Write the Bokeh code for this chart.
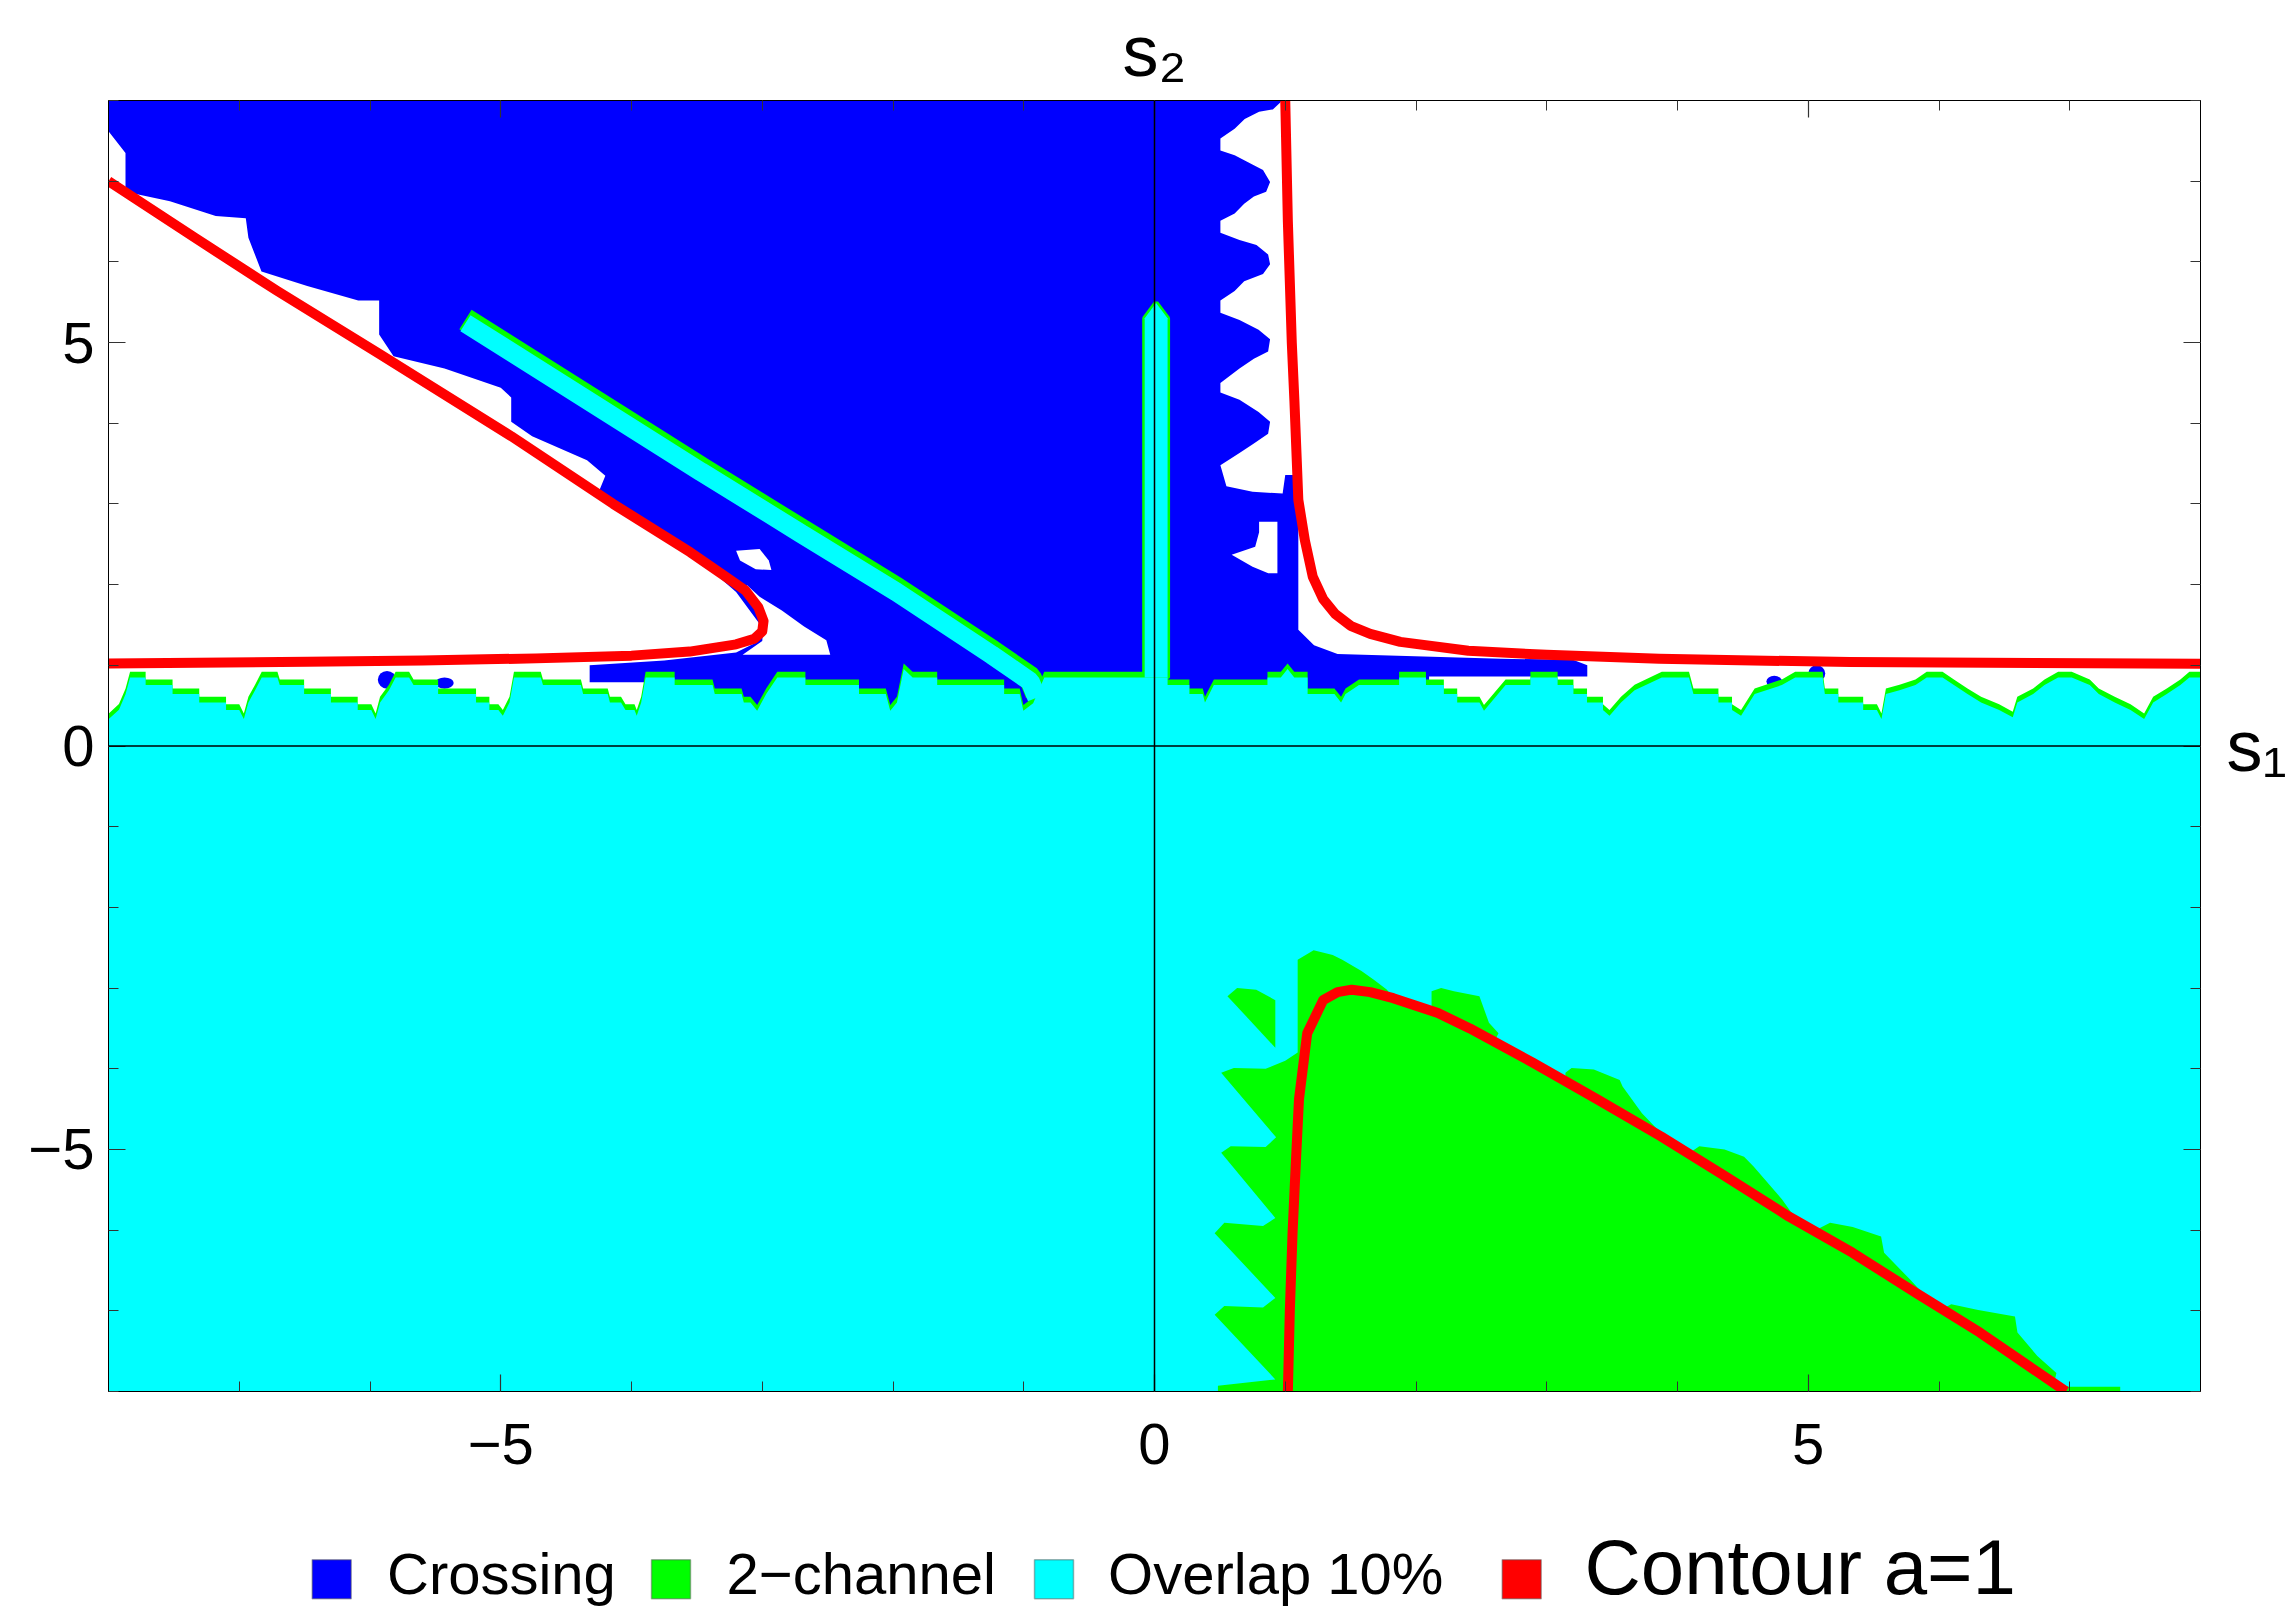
from bokeh.plotting import figure
from bokeh.models import Range1d, FixedTicker, LinearAxis, Span
from bokeh.layouts import column
from bokeh.embed import file_html
from bokeh.resources import INLINE
from bokeh.core.properties import value

# ---------------------------------------------------------------- data
S1_RANGE = (-8, 8)
S2_RANGE = (-8, 8)
MAJOR_TICKS = [-5, 0, 5]
MINOR_TICKS = list(range(-8, 9))
TICK_LABELS = {-5: "\u22125", 0: "0", 5: "5"}
S1_NAME = "s\u2081"
S2_NAME = "s\u2082"

LEGEND_LABELS = ["Crossing", "2\u2212channel", "Overlap 10%", "Contour a=1"]

# contour a = 1, three branches (s1, s2)
CONTOUR_UL = [(-8.0, 7.0), (-7.34, 6.30), (-6.71, 5.64), (-5.93, 4.86), (-4.92, 3.84),
              (-4.14, 3.0), (-3.55, 2.40), (-3.30, 2.12), (-3.13, 1.93), (-3.03, 1.72),
              (-2.99, 1.55), (-3.0, 1.42), (-3.06, 1.33), (-3.2, 1.26), (-3.555, 1.17),
              (-4.0, 1.12), (-4.73, 1.086), (-5.6, 1.06), (-6.48, 1.044), (-8.0, 1.024)]
CONTOUR_UR = [(1.00, 8.0), (1.02, 6.5), (1.05, 5.0), (1.07, 4.28), (1.10, 3.05), (1.15, 2.55),
              (1.21, 2.10), (1.29, 1.82), (1.38, 1.64), (1.50, 1.49), (1.65, 1.39), (1.88, 1.29),
              (2.40, 1.18), (3.0, 1.13), (3.86, 1.08), (5.32, 1.04), (8.0, 1.02)]
CONTOUR_LR = [(1.02, -8.0), (1.035, -7.0), (1.056, -6.03), (1.08, -5.2), (1.105, -4.38),
              (1.168, -3.56), (1.29, -3.15), (1.40, -3.05), (1.509, -3.02), (1.65, -3.05),
              (1.826, -3.125), (2.168, -3.31), (2.412, -3.50), (2.90, -3.93), (3.387, -4.38),
              (3.875, -4.84), (4.362, -5.33), (4.85, -5.83), (5.338, -6.28), (5.825, -6.78),
              (6.313, -7.27), (6.971, -8.0)]

# upper boundary of the "Overlap 10%" region (lower half plane)
OVERLAP_EDGE = [
    (-8.00, 0.40), (-7.92, 0.52), (-7.87, 0.71), (-7.835, 0.92), (-7.716, 0.92), (-7.716, 0.825),
    (-7.51, 0.825), (-7.51, 0.713), (-7.306, 0.713), (-7.306, 0.61), (-7.101, 0.61), (-7.101, 0.516),
    (-7.00, 0.516), (-6.965, 0.404),
    (-6.93, 0.61), (-6.879, 0.76), (-6.828, 0.92), (-6.708, 0.92), (-6.69, 0.825), (-6.504, 0.825),
    (-6.504, 0.713), (-6.299, 0.713), (-6.299, 0.61), (-6.094, 0.61), (-6.094, 0.516), (-5.99, 0.516),
    (-5.957, 0.404),
    (-5.923, 0.61), (-5.855, 0.76), (-5.804, 0.92), (-5.701, 0.92), (-5.667, 0.825), (-5.479, 0.825),
    (-5.479, 0.713), (-5.189, 0.713), (-5.189, 0.61), (-5.087, 0.61), (-5.087, 0.516), (-5.018, 0.516),
    (-4.984, 0.446),
    (-4.933, 0.61), (-4.899, 0.92), (-4.694, 0.92), (-4.677, 0.825), (-4.387, 0.825), (-4.37, 0.713),
    (-4.182, 0.713), (-4.165, 0.61), (-4.08, 0.61), (-4.046, 0.516), (-3.977, 0.516), (-3.96, 0.446),
    (-3.926, 0.61), (-3.892, 0.92), (-3.67, 0.92), (-3.67, 0.825), (-3.38, 0.825), (-3.363, 0.713),
    (-3.158, 0.713), (-3.141, 0.61), (-3.09, 0.61), (-3.039, 0.507),
    (-2.97, 0.713), (-2.885, 0.92), (-2.67, 0.92), (-2.67, 0.825), (-2.26, 0.825), (-2.26, 0.713),
    (-2.055, 0.713), (-2.021, 0.507),
    (-1.97, 0.61), (-1.918, 1.024), (-1.85, 0.92), (-1.662, 0.92), (-1.662, 0.825), (-1.150, 0.825),
    (-1.150, 0.713), (-1.031, 0.713), (-1.003, 0.507),
    (-0.928, 0.60), (-0.843, 0.92), (-0.075, 0.92), (0.10, 0.92), (0.10, 0.825), (0.267, 0.825),
    (0.267, 0.713), (0.369, 0.713), (0.386, 0.61),
    (0.454, 0.825), (0.864, 0.825), (0.864, 0.92), (0.966, 0.92), (1.018, 1.024), (1.069, 0.92),
    (1.171, 0.92), (1.171, 0.713), (1.376, 0.713), (1.427, 0.61),
    (1.461, 0.713), (1.564, 0.825), (1.871, 0.825), (1.871, 0.92), (2.076, 0.92), (2.076, 0.825),
    (2.213, 0.825), (2.213, 0.713), (2.315, 0.713), (2.315, 0.61), (2.486, 0.61), (2.52, 0.507),
    (2.685, 0.825), (2.875, 0.825), (2.875, 0.92), (3.083, 0.92), (3.083, 0.825), (3.204, 0.825),
    (3.204, 0.713), (3.308, 0.713), (3.308, 0.61), (3.43, 0.61), (3.43, 0.516), (3.48, 0.446),
    (3.568, 0.61), (3.672, 0.76), (3.88, 0.92), (4.088, 0.92), (4.122, 0.713), (4.313, 0.713),
    (4.313, 0.61), (4.417, 0.61), (4.417, 0.516), (4.486, 0.446),
    (4.59, 0.713), (4.798, 0.825), (4.90, 0.92), (5.11, 0.92), (5.127, 0.713), (5.23, 0.713),
    (5.23, 0.61), (5.42, 0.61), (5.42, 0.516), (5.525, 0.516), (5.56, 0.404),
    (5.594, 0.713), (5.698, 0.76), (5.82, 0.825), (5.906, 0.92), (6.027, 0.92), (6.114, 0.825),
    (6.218, 0.713), (6.322, 0.61), (6.46, 0.516), (6.564, 0.425),
    (6.599, 0.61), (6.72, 0.713), (6.807, 0.825), (6.911, 0.92), (7.015, 0.92), (7.153, 0.825),
    (7.222, 0.713), (7.344, 0.61), (7.465, 0.516), (7.569, 0.404),
    (7.638, 0.61), (7.742, 0.713), (7.846, 0.825), (7.915, 0.92), (8.0, 0.92),
]

# thin "Overlap 10%" bands inside the crossing region
OVERLAP_DIAGONAL = [(-5.27, 5.24), (-3.47, 3.40), (-2.70, 2.63), (-1.975, 1.91),
                    (-1.245, 1.13), (-0.95, 0.80), (-0.90, 0.60)]
OVERLAP_VERTICAL = [(-0.075, 0.85), (-0.075, 5.30), (0.012, 5.49), (0.10, 5.30), (0.10, 0.85)]

# "Crossing" region outline
CROSSING = [
    (-8.0, 8.0), (0.978, 8.0), (0.905, 7.89), (0.80, 7.86), (0.69, 7.77), (0.613, 7.65),
    (0.504, 7.53), (0.504, 7.38), (0.613, 7.32), (0.723, 7.23), (0.83, 7.14), (0.884, 6.99),
    (0.854, 6.87), (0.76, 6.81), (0.686, 6.72), (0.613, 6.60), (0.504, 6.51), (0.504, 6.36),
    (0.65, 6.27), (0.78, 6.21), (0.869, 6.09), (0.884, 5.97), (0.83, 5.85), (0.686, 5.76),
    (0.613, 5.64), (0.504, 5.52), (0.504, 5.37), (0.65, 5.28), (0.796, 5.16), (0.884, 5.04),
    (0.869, 4.89), (0.76, 4.80), (0.65, 4.68), (0.504, 4.50), (0.504, 4.38), (0.65, 4.29),
    (0.796, 4.14), (0.884, 4.02), (0.869, 3.87), (0.76, 3.75), (0.65, 3.63), (0.504, 3.48),
    (0.55, 3.22), (0.75, 3.15), (0.98, 3.13), (1.0, 3.36), (1.10, 3.36), (1.10, 1.44),
    (1.22, 1.25), (1.40, 1.14), (2.65, 1.08), (3.20, 1.07), (3.31, 1.0), (3.31, 0.86), (2.10, 0.86),
    (2.10, 0.40), (-3.90, 0.40), (-3.90, 0.79), (-4.32, 0.79), (-4.32, 1.0), (-3.75, 1.06),
    (-3.20, 1.16), (-3.05, 1.28), (-2.99, 1.40), (-3.01, 1.49), (-3.20, 1.91), (-3.55, 2.40),
    (-4.14, 3.00), (-4.25, 3.15), (-4.20, 3.35), (-4.34, 3.54), (-4.76, 3.84), (-4.92, 4.02),
    (-4.92, 4.32), (-5.00, 4.44), (-5.43, 4.68), (-5.82, 4.83), (-5.93, 5.10), (-5.93, 5.52),
    (-6.09, 5.52), (-6.48, 5.70), (-6.83, 5.88), (-6.93, 6.30), (-6.95, 6.54), (-7.18, 6.57),
    (-7.53, 6.75), (-7.87, 6.87), (-7.87, 7.35), (-8.0, 7.62),
]
# gaps inside the crossing region
CROSSING_GAPS = [
    [(-3.12, 2.0), (-3.02, 1.85), (-2.85, 1.68), (-2.68, 1.48), (-2.51, 1.31), (-2.48, 1.13),
     (-3.15, 1.13), (-3.0, 1.3), (-2.99, 1.5)],
    [(-3.20, 2.42), (-3.02, 2.44), (-2.95, 2.3), (-2.93, 2.18), (-3.05, 2.19), (-3.17, 2.3)],
    [(0.80, 2.78), (0.94, 2.78), (0.94, 2.14), (0.87, 2.14), (0.75, 2.22), (0.59, 2.37),
     (0.77, 2.47), (0.80, 2.65)],
]
# isolated crossing specks just above the overlap boundary
SPECK_X = [-5.87, -5.43, 4.74, 5.065]
SPECK_Y = [0.82, 0.78, 0.80, 0.90]
SPECK_W = [0.14, 0.14, 0.12, 0.13]
SPECK_H = [0.22, 0.14, 0.14, 0.20]

# "2-channel" region, lower right
TWO_CHANNEL = [
    (0.485, -8.0), (0.485, -7.93), (0.924, -7.85), (0.46, -7.05), (0.534, -6.94), (0.83, -6.96),
    (0.924, -6.84), (0.46, -6.04), (0.534, -5.91), (0.83, -5.95), (0.924, -5.85), (0.51, -5.04),
    (0.583, -4.96), (0.85, -4.97), (0.93, -4.85), (0.51, -4.05), (0.607, -3.99), (0.85, -4.0),
    (1.0, -3.9), (1.095, -3.8), (1.095, -2.65), (1.217, -2.53), (1.363, -2.59), (1.436, -2.65),
    (1.583, -2.79), (1.68, -2.90), (1.778, -3.02), (1.826, -3.125), (2.119, -3.28), (2.119, -3.04),
    (2.192, -3.0), (2.29, -3.04), (2.485, -3.10), (2.558, -3.43), (2.631, -3.56), (2.60, -3.66),
    (2.90, -3.93), (3.143, -4.15), (3.143, -4.05), (3.19, -3.99), (3.36, -4.01), (3.558, -4.14),
    (3.58, -4.22), (3.728, -4.55), (3.875, -4.80), (4.094, -5.06), (4.094, -5.04), (4.167, -4.96),
    (4.36, -5.0), (4.509, -5.09), (4.582, -5.21), (4.8, -5.62), (4.875, -5.79), (4.85, -5.83),
    (5.07, -6.03), (5.07, -5.99), (5.167, -5.91), (5.34, -5.96), (5.557, -6.08), (5.58, -6.28),
    (5.777, -6.61), (5.874, -6.78), (5.825, -6.78), (6.02, -6.98), (6.094, -6.92), (6.3, -6.99),
    (6.581, -7.07), (6.6, -7.27), (6.752, -7.56), (6.898, -7.77), (6.88, -7.90), (6.995, -7.94),
    (7.386, -7.94), (7.386, -8.0),
]
TWO_CHANNEL_PIECE = [(0.558, -3.10), (0.632, -3.0), (0.778, -3.02), (0.924, -3.15), (0.924, -3.74)]

# ---------------------------------------------------------------- styling
BLUE, GREEN, CYAN, RED = "#0000FF", "#00FF00", "#00FFFF", "#FF0000"
FONT = "Liberation Sans"
FRINGE = 0.07  # depth of the green rim along the overlap boundary
PAD_L, PAD_R = 108, 95


def xs(pts):
    return [q[0] for q in pts]


def ys(pts, dy=0.0):
    return [q[1] + dy for q in pts]


p = figure(width=2295, height=1500,
           x_range=Range1d(*S1_RANGE), y_range=Range1d(*S2_RANGE),
           output_backend="svg", toolbar_location=None,
           min_border_left=PAD_L, min_border_right=PAD_R, min_border_top=100, min_border_bottom=109,
           background_fill_color="white", border_fill_color="white")
p.grid.visible = False
p.outline_line_color = "black"
p.outline_line_width = 1


def style_axis(ax, with_labels):
    ax.ticker = FixedTicker(ticks=MAJOR_TICKS, minor_ticks=MINOR_TICKS)
    ax.major_tick_in = 17
    ax.major_tick_out = 0
    ax.minor_tick_in = 10
    ax.minor_tick_out = 0
    ax.axis_line_color = "black"
    ax.axis_line_width = 1
    ax.major_tick_line_color = "#333333"
    ax.minor_tick_line_color = "#333333"
    ax.major_tick_line_width = 1.2
    ax.minor_tick_line_width = 1
    if with_labels:
        ax.major_label_overrides = TICK_LABELS
        ax.major_label_text_font = FONT
        ax.major_label_text_font_size = "58px"
        ax.major_label_text_color = "black"
    else:
        ax.major_label_text_font_size = "0px"
        ax.major_label_text_alpha = 0
        ax.major_label_standoff = 0


style_axis(p.xaxis[0], True)
style_axis(p.yaxis[0], True)
p.xaxis[0].major_label_standoff = 32
p.yaxis[0].major_label_standoff = 14

# frame sides: axis names sit at the end of each coordinate axis
top_axis = LinearAxis(axis_label=S2_NAME)
right_axis = LinearAxis(axis_label=S1_NAME)
style_axis(top_axis, False)
style_axis(right_axis, False)
for ax in (top_axis, right_axis):
    ax.axis_label_text_font = FONT
    ax.axis_label_text_font_size = "72px"
    ax.axis_label_text_font_style = "normal"
    ax.axis_label_text_color = "black"
top_axis.axis_label_standoff = 10
right_axis.axis_label_orientation = "horizontal"
right_axis.axis_label_standoff = 26
p.add_layout(top_axis, "above")
p.add_layout(right_axis, "right")

# crossing region and its gaps
p.patch(xs(CROSSING), ys(CROSSING), fill_color=BLUE, line_color=None)
for gap in CROSSING_GAPS:
    p.patch(xs(gap), ys(gap), fill_color="white", line_color=None)
p.ellipse(x=SPECK_X, y=SPECK_Y, width=SPECK_W, height=SPECK_H, fill_color=BLUE, line_color=None)

# overlap region with its green rim
base_x = xs(OVERLAP_EDGE) + [S1_RANGE[1], S1_RANGE[0]]
p.patch(base_x, ys(OVERLAP_EDGE) + [S2_RANGE[0], S2_RANGE[0]], fill_color=GREEN, line_color=None)
p.line(xs(OVERLAP_DIAGONAL), ys(OVERLAP_DIAGONAL, 0.045), line_color=GREEN, line_width=23)
p.patch(xs(OVERLAP_VERTICAL), ys(OVERLAP_VERTICAL), fill_color=CYAN, line_color=GREEN, line_width=5)
p.patch(base_x, ys(OVERLAP_EDGE, -FRINGE) + [S2_RANGE[0], S2_RANGE[0]], fill_color=CYAN, line_color=None)
p.line(xs(OVERLAP_DIAGONAL), ys(OVERLAP_DIAGONAL), line_color=CYAN, line_width=19)
p.patch(xs(OVERLAP_VERTICAL), ys(OVERLAP_VERTICAL), fill_color=CYAN, line_color=None)

# 2-channel region
p.patch(xs(TWO_CHANNEL), ys(TWO_CHANNEL), fill_color=GREEN, line_color=None)
p.patch(xs(TWO_CHANNEL_PIECE), ys(TWO_CHANNEL_PIECE), fill_color=GREEN, line_color=None)

# contour a = 1
for branch in (CONTOUR_UL, CONTOUR_UR, CONTOUR_LR):
    p.line(xs(branch), ys(branch), line_color=RED, line_width=10, line_join="round")

# coordinate axes through the origin
p.add_layout(Span(location=0, dimension="width", line_color="black", line_width=1.5))
p.add_layout(Span(location=0, dimension="height", line_color="black", line_width=1.5))

# ---------------------------------------------------------------- legend row
# x in page pixels (frame spans PAD_L .. 2295-PAD_R), y in pixels above the page bottom
lf = figure(width=2295, height=109, x_range=Range1d(PAD_L, 2295 - PAD_R), y_range=Range1d(0, 109),
            output_backend="svg", toolbar_location=None,
            min_border_left=PAD_L, min_border_right=PAD_R, min_border_top=0, min_border_bottom=0,
            x_axis_type=None, y_axis_type=None,
            background_fill_color="white", border_fill_color="white")
lf.outline_line_color = None

swatch_left = [311.7, 651.0, 1034.0, 1501.7]
text_left = [386.5, 726.0, 1107.6, 1584.0]
text_size = [58, 58, 58, 78]
lf.quad(left=swatch_left, right=[v + 39 for v in swatch_left],
        top=[49.7] * 4, bottom=[10.7] * 4,
        fill_color=[BLUE, GREEN, CYAN, RED], line_color="#555555", line_alpha=0.45, line_width=1.5)
for label, tx, fs in zip(LEGEND_LABELS, text_left, text_size):
    lf.text(x=[tx], y=[15.7 + 0.35 * fs], text=[label], text_font=value(FONT),
            text_font_size=value(f"{fs}px"),
            text_baseline="middle", text_align="left", text_color="black")

layout = column(p, lf)
open("out.html", "w").write(file_html(layout, INLINE, title="Regions in the s1-s2 plane"))
